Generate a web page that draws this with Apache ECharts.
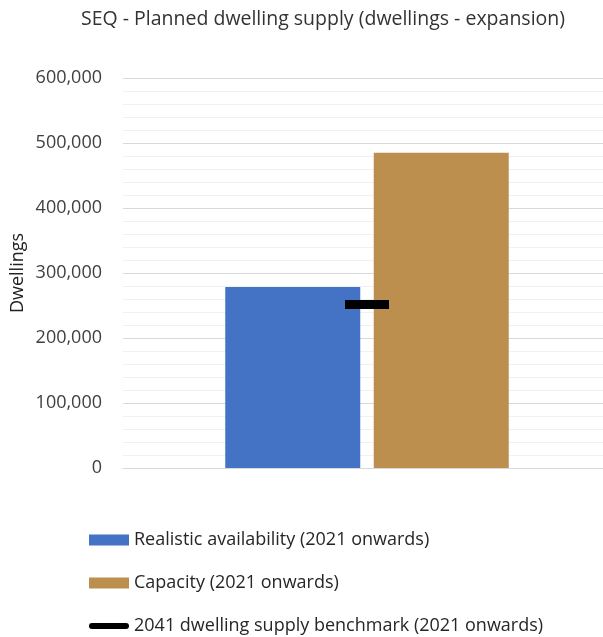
<!DOCTYPE html>
<html><head><meta charset="utf-8">
<script src="https://cdn.jsdelivr.net/npm/echarts@6/dist/echarts.min.js"></script>
<style>html,body{margin:0;padding:0;background:#fff;overflow:hidden}#c{width:611px;height:637px}</style>
</head><body><div id="c"></div>
<script>
var categories = ['SEQ'];
var realistic = [278500];
var capacity = [485000];
var benchmark = [251500];
var yTicks = [0, 100000, 200000, 300000, 400000, 500000, 600000];
var seriesNames = ['Realistic availability (2021 onwards)', 'Capacity (2021 onwards)', '2041 dwelling supply benchmark (2021 onwards)'];

var font = 'Open Sans';
var chart = echarts.init(document.getElementById('c'));
chart.setOption({
  animation: false,
  title: {
    text: 'SEQ - Planned dwelling supply (dwellings - expansion)',
    left: 323, top: 9, textAlign: 'center', padding: 0,
    textStyle: {fontFamily: font, fontSize: 19.5, fontWeight: 'normal', color: '#333'}
  },
  grid: {left: 123, right: 0, top: 78, bottom: 169, containLabel: false},
  legend: {
    orient: 'vertical', left: 89, top: 531, height: 106, padding: 0,
    itemWidth: 40, itemHeight: 11, itemGap: 25,
    textStyle: {fontFamily: font, fontSize: 18, color: '#262626', lineHeight: 18},
    data: [
      {name: seriesNames[0], icon: 'rect'},
      {name: seriesNames[1], icon: 'rect'},
      {name: seriesNames[2], icon: 'path://M3,0 L38,0 A3,3 0 0 1 38,6 L3,6 A3,3 0 0 1 3,0 Z', itemStyle: {color: '#000', opacity: 1}}
    ]
  },
  xAxis: {
    type: 'category', data: categories,
    axisLine: {show: true, lineStyle: {color: '#d9d9d9'}},
    axisTick: {show: false}, axisLabel: {show: false}
  },
  yAxis: {
    type: 'value', min: yTicks[0], max: yTicks[yTicks.length - 1], interval: 100000,
    name: 'Dwellings', nameLocation: 'middle', nameGap: 96, nameRotate: 90, nameMoveOverlap: false,
    nameTextStyle: {fontFamily: font, fontSize: 18, color: '#222'},
    axisLine: {show: false}, axisTick: {show: false},
    axisLabel: {fontFamily: font, fontSize: 18, color: '#404040', margin: 21,
      formatter: function (v) { return v.toLocaleString('en-US'); }},
    splitLine: {lineStyle: {color: '#d9d9d9'}},
    minorTick: {show: false, splitNumber: 5},
    minorSplitLine: {show: true, lineStyle: {color: '#f0f0f0'}}
  },
  series: [
    {name: seriesNames[0], type: 'bar', data: realistic, barWidth: 135, barGap: '10%', itemStyle: {color: '#4472C4'}},
    {name: seriesNames[1], type: 'bar', data: capacity, barWidth: 135, barGap: '10%', itemStyle: {color: '#BD8F4E'}},
    {name: seriesNames[2], type: 'scatter', data: benchmark, symbol: 'rect', symbolSize: [44, 9], itemStyle: {color: '#000', opacity: 1}, z: 5}
  ]
});
</script></body></html>
